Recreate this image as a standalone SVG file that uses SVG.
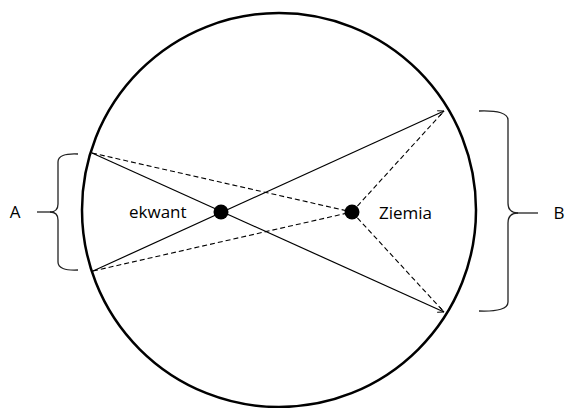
<svg xmlns="http://www.w3.org/2000/svg" width="570" height="408" viewBox="0 0 570 408">
<style>
.lbl{font-family:"Open Sans","Liberation Sans",sans-serif;font-size:17px;fill:#000}
.solid{stroke:#000;stroke-width:1.2;fill:none}
.dash{stroke:#000;stroke-width:1.1;fill:none;stroke-dasharray:5,3}
.brace{stroke:#222;stroke-width:1.3;fill:none}
</style>
<defs>
<marker id="ah" viewBox="0 0 8 8" refX="7" refY="4" markerWidth="7" markerHeight="7" markerUnits="userSpaceOnUse" orient="auto">
<path d="M0,0.5 L7,4 L0,7.5" fill="none" stroke="#000" stroke-width="1"/>
</marker>
</defs>
<rect width="570" height="408" fill="#fff"/>
<g id="orbit"><circle cx="279" cy="210" r="197" fill="none" stroke="#000" stroke-width="2.5"/></g>
<g id="connectors">
<line class="solid" x1="92" y1="153" x2="444" y2="312" marker-end="url(#ah)"/>
<line class="solid" x1="93" y1="271" x2="444" y2="111" marker-end="url(#ah)"/>
<line class="dash" x1="92" y1="153" x2="352" y2="212"/>
<line class="dash" x1="93" y1="271" x2="352" y2="212"/>
<line class="dash" x1="352" y1="212" x2="444" y2="111"/>
<line class="dash" x1="352" y1="212" x2="444" y2="312"/>
</g>
<g id="ekwant"><circle cx="221" cy="212" r="7.5" fill="#000"/><text class="lbl" x="129" y="218">ekwant</text></g>
<g id="ziemia"><circle cx="352" cy="212" r="7.5" fill="#000"/><text class="lbl" x="379" y="219">Ziemia</text></g>
<g id="braceA">
<path class="brace" d="M78,154 Q58,153 58,162 L58,204 Q58,212 50,212 Q58,212 58,220 L58,262 Q58,271 78,270"/>
<line class="brace" x1="37" y1="212" x2="51" y2="212"/>
<text class="lbl" x="15" y="218" text-anchor="middle">A</text>
</g>
<g id="braceB">
<path class="brace" d="M479,111 Q508,110 508,120 L508,203 Q508,213 518,213 Q508,213 508,223 L508,302 Q508,312 479,311"/>
<line class="brace" x1="517" y1="213" x2="538" y2="213"/>
<text class="lbl" x="559" y="219" text-anchor="middle">B</text>
</g>
</svg>
